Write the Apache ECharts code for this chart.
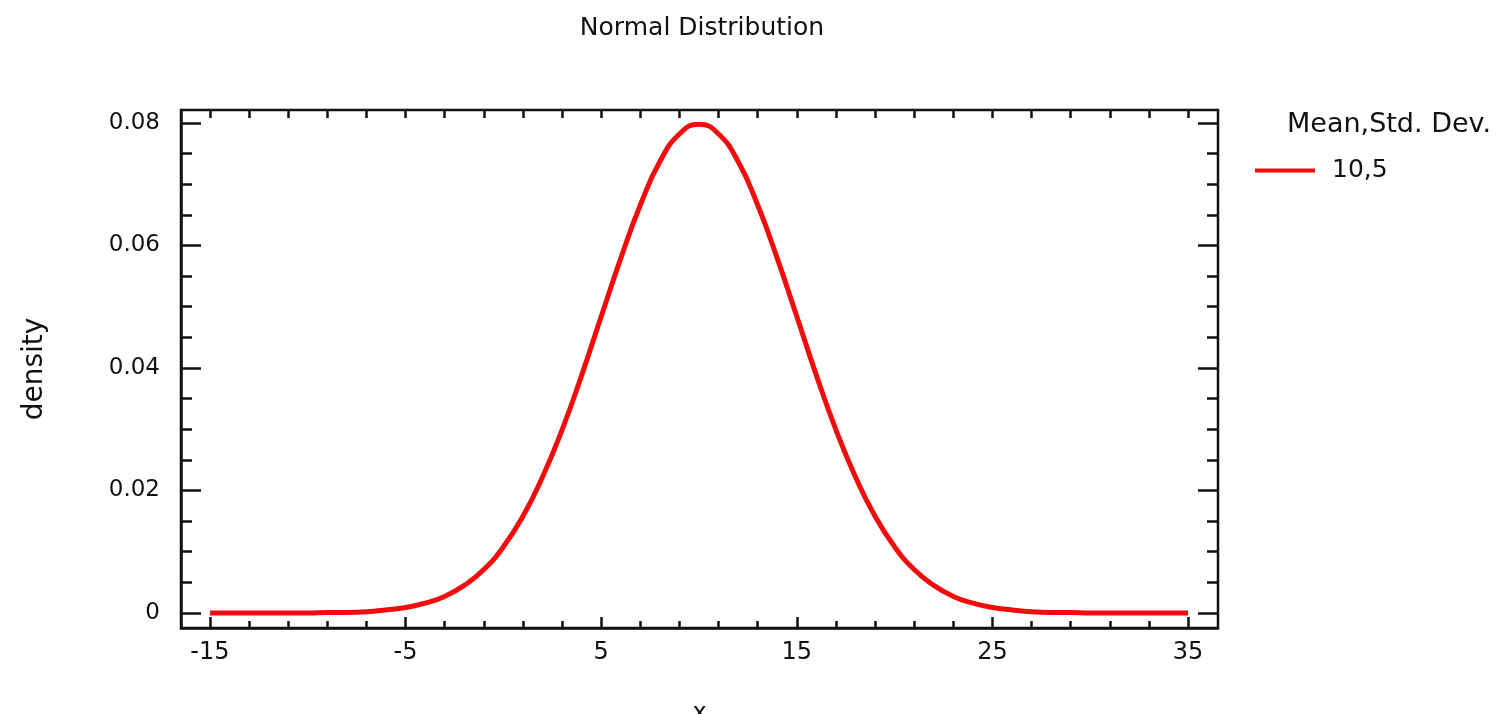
<!DOCTYPE html>
<html>
<head>
<meta charset="utf-8">
<title>Normal Distribution</title>
<script src="https://cdn.jsdelivr.net/npm/echarts@6/dist/echarts.min.js"></script>
<style>
  html, body { margin: 0; padding: 0; background: #fff; }
  #chart { width: 1502px; height: 714px; }
</style>
</head>
<body>
<div id="chart"></div>
<script>
// values (density of mean 10, std. dev. 5)
const xValues = [-15, -14, -13, -12, -11, -10, -9, -8, -7, -6, -5, -4, -3, -2, -1, 0,
  1, 2, 3, 4, 5, 6, 7, 8, 9, 10, 11, 12, 13, 14, 15, 16, 17, 18, 19, 20,
  21, 22, 23, 24, 25, 26, 27, 28, 29, 30, 31, 32, 33, 34, 35];
const densityValues = [0, 0, 0, 0, 0, 0, 0.0001, 0.0001, 0.0002, 0.0005, 0.0009, 0.0016, 0.0027, 0.0045, 0.0071, 0.0108,
  0.0158, 0.0222, 0.0299, 0.0388, 0.0484, 0.0579, 0.0666, 0.0737, 0.0782, 0.0798, 0.0782, 0.0737, 0.0666, 0.0579, 0.0484, 0.0388, 0.0299, 0.0222, 0.0158, 0.0108,
  0.0071, 0.0045, 0.0027, 0.0016, 0.0009, 0.0005, 0.0002, 0.0001, 0.0001, 0, 0, 0, 0, 0, 0];
const seriesName = '10,5';
const legendTitle = 'Mean,Std. Dev.';

const xLabels = [-15, -5, 5, 15, 25, 35];
const xMinorTicks = [-15, -13, -11, -9, -7, -5, -3, -1, 1, 3, 5, 7, 9, 11, 13, 15, 17, 19, 21, 23, 25, 27, 29, 31, 33, 35];
const yLabels = [0, 0.02, 0.04, 0.06, 0.08];
const yMinorTicks = [0, 0.005, 0.01, 0.015, 0.02, 0.025, 0.03, 0.035, 0.04, 0.045, 0.05, 0.055, 0.06, 0.065, 0.07, 0.075, 0.08];

const font = 'DejaVu Sans';
const ink = '#111';
const xMin = -16.48, xMax = 36.53;
const yMin = -0.00245, yMax = 0.08212;

const chart = echarts.init(document.getElementById('chart'));

// axis with ticks only (no label, no line)
function tickAxis(extra) {
  return Object.assign({
    type: 'value',
    splitLine: { show: false },
    axisLine: { show: false, onZero: false },
    axisLabel: { show: false },
  }, extra);
}

const tickStyle = { color: ink, width: 2.5 };
const gridBox = { left: 181, right: 284, top: 110, bottom: 86, outerBoundsMode: 'none', containLabel: false };

const option = {
  animation: false,
  backgroundColor: '#fff',
  title: [
    {
      text: 'Normal Distribution',
      left: 697, top: 11, textAlign: 'center',
      textStyle: { fontFamily: font, fontSize: 25, fontWeight: 'normal', color: ink },
    },
    {
      text: legendTitle,
      left: 1282, top: 106,
      textStyle: { fontFamily: font, fontSize: 27, fontWeight: 'normal', color: ink },
    },
  ],
  legend: {
    left: 1250, top: 153,
    icon: 'rect',
    itemWidth: 60, itemHeight: 4,
    itemGap: 10,
    textStyle: { fontFamily: font, fontSize: 25, color: ink, padding: [0, 0, 0, 12] },
    data: [seriesName],
  },
  grid: [
    Object.assign({ show: true, borderColor: ink, borderWidth: 2.5, backgroundColor: '#fff' }, gridBox),
    Object.assign({}, gridBox),
  ],
  xAxis: [
    {
      type: 'value', gridIndex: 0, position: 'bottom', min: xMin, max: xMax,
      splitLine: { show: false },
      axisLine: { show: true, onZero: false, lineStyle: { color: ink, width: 2.5 } },
      axisTick: { inside: true, length: 11, customValues: xLabels, lineStyle: tickStyle },
      axisLabel: { customValues: xLabels, margin: 13, fontFamily: font, fontSize: 24, color: ink },
      name: 'x', nameLocation: 'middle', nameGap: 74,
      nameTextStyle: { fontFamily: font, fontSize: 24, color: ink },
    },
    tickAxis({
      gridIndex: 0, position: 'top', min: xMin, max: xMax,
      axisTick: { inside: true, length: 8, customValues: xMinorTicks, lineStyle: tickStyle },
    }),
    tickAxis({
      gridIndex: 1, position: 'bottom', min: xMin, max: xMax,
      axisTick: { inside: true, length: 7, customValues: xMinorTicks, lineStyle: tickStyle },
    }),
  ],
  yAxis: [
    {
      type: 'value', gridIndex: 0, position: 'left', min: yMin, max: yMax,
      splitLine: { show: false },
      axisLine: { show: true, onZero: false, lineStyle: { color: ink, width: 2.5 } },
      axisTick: { inside: true, length: 20, customValues: yLabels, lineStyle: tickStyle },
      axisLabel: {
        customValues: yLabels, margin: 21, fontFamily: font, fontSize: 23, color: ink,
        formatter: (v) => (v === 0 ? '0' : v.toFixed(2)),
      },
      name: 'density', nameLocation: 'middle', nameRotate: 90, nameGap: 132,
      nameTextStyle: { fontFamily: font, fontSize: 28, color: ink },
    },
    tickAxis({
      gridIndex: 0, position: 'right', min: yMin, max: yMax,
      axisTick: { inside: true, length: 20, customValues: yLabels, lineStyle: tickStyle },
    }),
    tickAxis({
      gridIndex: 1, position: 'left', min: yMin, max: yMax,
      axisTick: { inside: true, length: 11, customValues: yMinorTicks, lineStyle: tickStyle },
    }),
    tickAxis({
      gridIndex: 1, position: 'right', min: yMin, max: yMax,
      axisTick: { inside: true, length: 11, customValues: yMinorTicks, lineStyle: tickStyle },
    }),
  ],
  series: [
    {
      name: seriesName,
      type: 'line',
      xAxisIndex: 0, yAxisIndex: 0,
      smooth: true,
      showSymbol: false,
      color: '#f20d0d',
      lineStyle: { width: 5, color: '#f20d0d' },
      data: xValues.map((x, i) => [x, densityValues[i]]),
    },
  ],
};

chart.setOption(option);
</script>
</body>
</html>
